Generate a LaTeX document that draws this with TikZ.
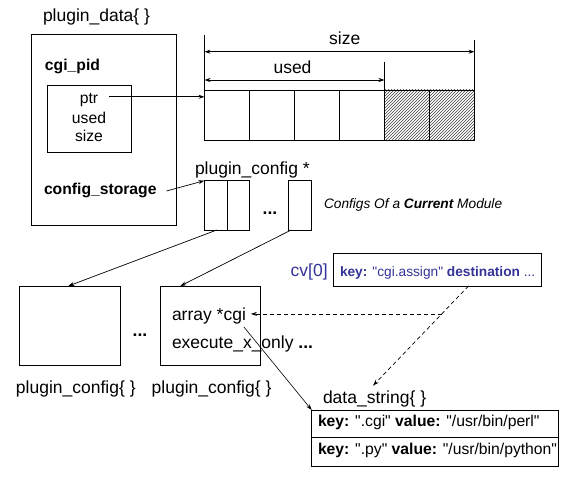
\documentclass[tikz,border=0pt]{standalone}
\usepackage{fontspec}
\setmainfont{Liberation Sans}
\usetikzlibrary{arrows.meta,patterns,calc}
\definecolor{cvblue}{RGB}{51,51,153}
\newcommand{\qq}{\textquotedbl}
\begin{document}
\begin{tikzpicture}[x=1pt,y=-1pt,
  every node/.style={inner sep=0pt, outer sep=0pt},
  big/.style={font=\fontsize{17.5}{20}\selectfont},
  mid/.style={font=\fontsize{15.7}{18}\selectfont},
  small/.style={font=\fontsize{13.7}{16}\selectfont},
  box/.style={draw, line width=0.8pt, anchor=north west},
  cell/.style={box, minimum width=45pt, minimum height=50.5pt},
  hatched/.style={cell, pattern=north east lines, pattern color=black!75},
  arr/.style={-{Stealth[length=6pt,width=4pt]}, line width=0.7pt},
  dim/.style={{Stealth[length=6pt,width=4pt]}-{Stealth[length=6pt,width=4pt]}, line width=0.8pt},
  dsh/.style={arr, dash pattern=on 4pt off 3pt},
  line width=0.8pt]
\useasboundingbox (0,0) rectangle (579,487);

% plugin_data
\node[big, anchor=base west] (pdl) at (43,21.5) {plugin\_data\{ \}};
\node[box, minimum width=145pt, minimum height=191pt] (pd) at (31,34) {};
\node[mid, anchor=base west] (cgipid) at (45,71) {\textbf{cgi\_pid}};
\node[box, minimum width=84.5pt, minimum height=67pt] (inner) at (47,85) {};
\node[mid, anchor=base] (ptr) at (89,103.3) {ptr};
\node[mid, anchor=base] (usedf) at (89,123.3) {used};
\node[mid, anchor=base] (sizef) at (89,141.7) {size};
\node[mid, anchor=base west] (cs) at (44,194) {\textbf{config\_storage}};

% array
\foreach \i in {0,1,2,3} {
  \node[cell] (c\i) at ({204.5+45*\i},90) {};
}
\node[hatched] (c4) at (384.5,90) {};
\node[hatched] (c5) at (429.5,90) {};

% dimension lines
\coordinate (dl0) at (204.5,35);
\coordinate (dlm) at (384.5,61.7);
\coordinate (dlr) at (474.5,40);
\draw (dl0) -- (c0.north west);
\draw (dlm) -- (c4.north west);
\draw (dlr) -- (c5.north east);
\coordinate (sz1) at (204.5,51.7);
\coordinate (us1) at (204.5,80);
\draw[dim] (sz1) -- (sz1 -| c5.east);
\draw[dim] (us1) -- (us1 -| c4.west);
\node[big, anchor=base] (sizel) at (344.7,45) {size};
\node[big, anchor=base] (usedl) at (292.5,73.3) {used};

\coordinate (ps) at ($(ptr.base east)+(11,-6.5)$);
\draw[arr] (ps) -- (ps -| c0.west);

% plugin_config *
\node[big, anchor=base west] (pcl) at (195,175) {plugin\_config *};
\node[box, minimum width=23pt, minimum height=49.3pt] (pcA) at (204.3,180.7) {};
\node[box, minimum width=22pt, minimum height=49.3pt] (pcB) at (227.3,180.7) {};
\node[box, minimum width=22.7pt, minimum height=49.3pt] (pcC) at (288.3,180.7) {};
\node[big, anchor=base] (pcdots) at (270,214) {\textbf{...}};
\node[small, anchor=base west] (cur) at (324,208.3) {\itshape Configs Of a \textbf{Current} Module};

\draw[arr] ($(cs.base east)+(10,-3)$) -- (pcA.north west);

% bottom plugin_config boxes
\node[box, minimum width=101pt, minimum height=79.3pt] (b1) at (19.3,286) {};
\node[box, minimum width=100pt, minimum height=79.3pt] (b2) at (160.3,286) {};
\node[big, anchor=base] (bdots) at (140,336.7) {\textbf{...}};
\node[big, anchor=base west] (b1l) at (16,393.3) {plugin\_config\{ \}};
\node[big, anchor=base west] (b2l) at (151.7,393.3) {plugin\_config\{ \}};
\draw[arr] ($(pcA.south)+(1,0)$) -- ($(b1.north)+(-1.5,0)$);
\draw[arr] ($(pcC.south)+(-8.5,0)$) -- ($(b2.north)+(-30,0)$);

\node[big, anchor=base west] (acgi) at (172,320) {array *cgi};
\node[big, anchor=base west] (exe) at (172,348.3) {execute\_x\_only \textbf{...}};

% cv[0]
\node[big, anchor=base west, text=cvblue] (cvl) at (290.7,276.7) {cv[0]};
\node[box, minimum width=208.4pt, minimum height=32.7pt] (cv) at (333.3,253.3) {};
\node[small, anchor=base west, text=cvblue] (cvt) at (340,276) {\textbf{key:} \qq cgi.assign\qq{} \textbf{destination} ...};

% data_string
\node[big, anchor=base west] (ds) at (323,403.3) {data\_string\{ \}};
\node[box, minimum width=246.6pt, minimum height=27.7pt] (r1) at (311.7,410) {};
\node[box, minimum width=246.6pt, minimum height=28.3pt] (r2) at (311.7,437.7) {};
\node[mid, anchor=base west] (r1t) at (318,426.7) {\textbf{key:} \qq.cgi\qq{} \textbf{value:} \qq/usr/bin/perl\qq};
\node[mid, anchor=base west] (r2t) at (318,454) {\textbf{key:} \qq.py\qq{} \textbf{value:} \qq/usr/bin/python\qq};

% dashed connectors
\coordinate (cvs) at ($(cv.south)+(31,0)$);
\coordinate (dst) at ($(ds.north)+(-1.5,-5)$);
\draw[dsh] (cvs) -- (dst);
\coordinate (br) at ($(cvs)!0.28!(dst)$);
\draw[dsh] (br) -- ($(acgi.east |- br)+(5,0)$);

% solid connector
\coordinate (asrc) at ($(acgi.base east)+(-2,7)$);
\draw[arr, line width=0.6pt] (asrc) -- (r1.north west);
\end{tikzpicture}
\end{document}
